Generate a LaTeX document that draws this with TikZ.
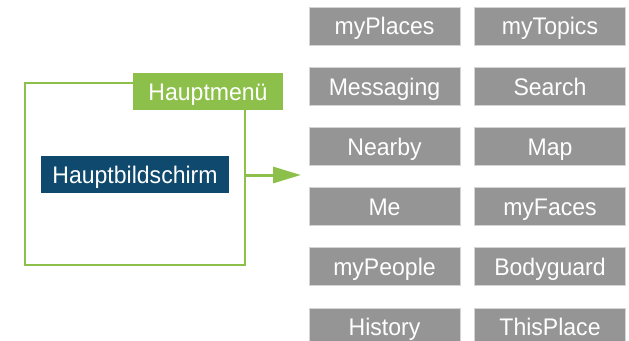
\documentclass[tikz,border=0pt]{standalone}
\usepackage{fontspec}
\setmainfont[FakeStretch=0.96]{Liberation Sans}
\usetikzlibrary{arrows.meta}
\definecolor{gbox}{HTML}{959595}
\definecolor{gborder}{HTML}{D4D4D4}
\definecolor{mgreen}{HTML}{8DC04A}
\definecolor{mblue}{HTML}{0F4A6E}
\tikzset{
  lbl/.style={inner sep=0pt, text=white, text height=17.2pt, text depth=0pt, font=\fontsize{24}{26}\selectfont},
  item/.style={lbl, fill=gbox, draw=gborder, line width=0.8pt, minimum width=151pt, minimum height=38pt},
  greenlabel/.style={lbl, fill=mgreen, draw=none, minimum width=150pt, minimum height=37pt},
  bluelabel/.style={lbl, fill=mblue, draw=none, minimum width=188pt, minimum height=37pt},
  frame/.style={draw=mgreen, line width=2.2pt},
  conn/.style={draw=mgreen, line width=3pt, -{Triangle[length=28pt,width=16pt]}}
}
\begin{document}
\begin{tikzpicture}[x=1pt,y=-1pt]
\useasboundingbox (0,0) rectangle (629,340);
\clip (0,0) rectangle (629,340);
\coordinate (fa) at (25,83);
\coordinate (fb) at (245,265);
\draw[frame] (fa) rectangle (fb);
\node[greenlabel] (menu) at (208,91.5) {Hauptmenü};
\node[bluelabel] (home) at (135,174.5) {Hauptbildschirm};
\coordinate (as) at (245,175);
\coordinate (ae) at (301,175);
\draw[conn] (as) -- (ae);
\node[item] (a1) at (384.5,26) {myPlaces};
\node[item] (b1) at (550,26) {myTopics};
\node[item] (a2) at (384.5,86.5) {Messaging};
\node[item] (b2) at (550,86.5) {Search};
\node[item] (a3) at (384.5,146.5) {Nearby};
\node[item] (b3) at (550,146.5) {Map};
\node[item] (a4) at (384.5,206.5) {Me};
\node[item] (b4) at (550,206.5) {myFaces};
\node[item] (a5) at (384.5,266.5) {myPeople};
\node[item] (b5) at (550,266.5) {Bodyguard};
\node[item] (a6) at (384.5,327) {History};
\node[item] (b6) at (550,327) {ThisPlace};
\end{tikzpicture}
\end{document}
